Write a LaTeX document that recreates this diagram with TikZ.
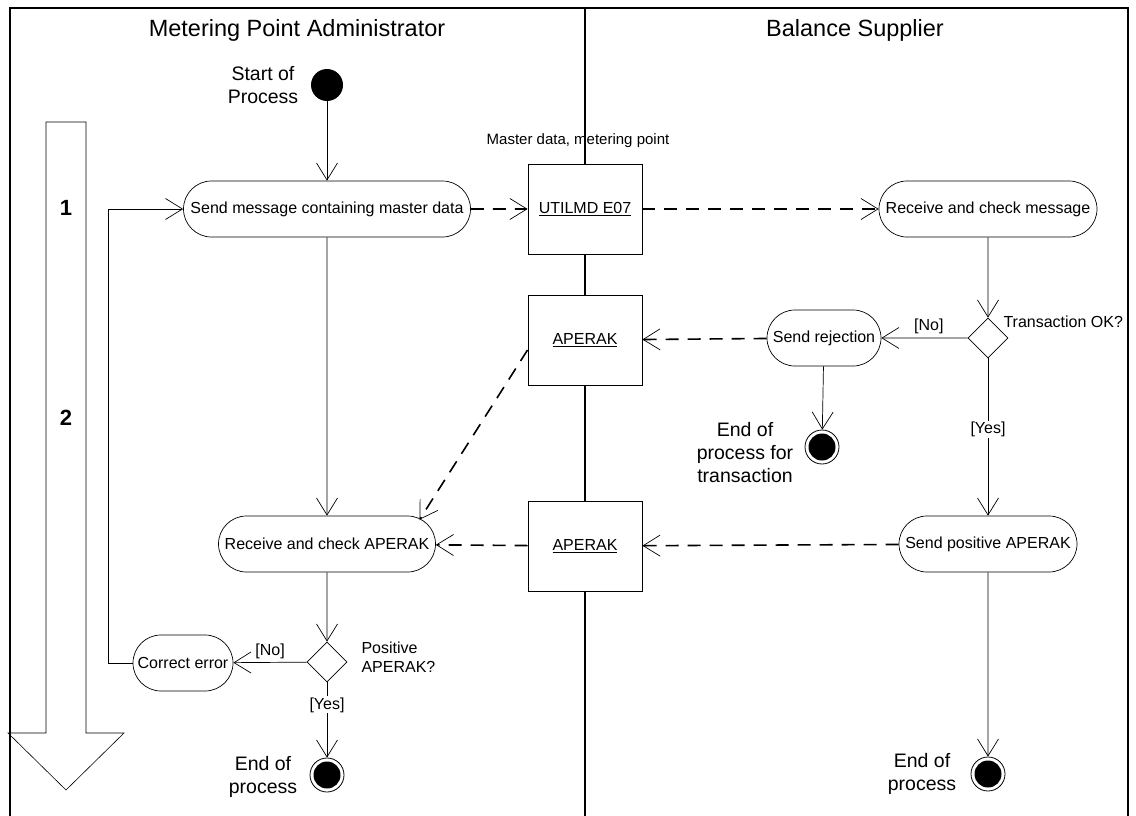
\documentclass[tikz,border=0pt]{standalone}
\usepackage{fontspec}
\setmainfont{Liberation Sans}
\usetikzlibrary{arrows.meta,shapes.misc,shapes.geometric,calc}
\begin{document}
\begin{tikzpicture}[x=1pt,y=-1pt,
  txt/.style={font=\fontsize{16}{19.5}\selectfont},
  act/.style={draw, line width=0.7pt, rounded rectangle, minimum height=56pt, inner xsep=6pt, txt},
  obj/.style={draw, line width=0.9pt, fill=white, minimum width=114pt, minimum height=90pt, txt},
  dec/.style={draw, diamond, line width=0.7pt, minimum width=40pt, minimum height=40pt, inner sep=0pt, fill=white},
  big/.style={font=\fontsize{19.5}{23}\selectfont, align=center},
  title/.style={font=\fontsize{23.5}{27}\selectfont},
  num/.style={font=\fontsize{22}{25}\selectfont\bfseries},
  startnode/.style={circle, fill=black, minimum size=32pt, inner sep=0pt},
  endnode/.style={circle, draw, line width=0.8pt, fill=white, minimum size=34pt, inner sep=0pt,
     path picture={\fill[black] (path picture bounding box.center) circle (13.5pt);}},
  tip/.style={-{Straight Barb[length=17pt,width=21pt,line width=0.7pt]}},
  flow/.style={line width=0.7pt, tip},
  msg/.style={line width=1.6pt, dash pattern=on 13pt off 9pt, tip},
  frame/.style={line width=1.6pt},
]
\useasboundingbox (0,0) rectangle (1136,816);

% frame and swimlanes
\draw[frame] (10,816) -- (10,8) -- (1128,8) -- (1128,816);
\draw[frame] (585,8) -- (585,816);
\node[title] (t1) at (297,30) {Metering Point Administrator};
\node[title] (t2) at (855,30) {Balance Supplier};

% big phase arrow
\draw[line width=0.6pt] (46,122) -- (46,733) -- (8,733) -- (66,790) -- (124,733) -- (86,733) -- (86,122) -- cycle;
\node[num] (n1) at (66,208) {1};
\node[num] (n2) at (66,418) {2};

% nodes
\node[startnode] (start) at (327,85) {};
\node[big] (startlbl) at (263,85) {Start of\\Process};

\node[act, minimum width=299pt] (send) at (327,209) {Send message containing master data};
\node[obj] (utl) at (585,209) {\underline{UTILMD E07}};
\node[font=\fontsize{15}{17}\selectfont] (utllbl) at (578,141) {Master data, metering point};
\node[act, minimum width=230pt] (recm) at (988,209) {Receive and check message};

\node[dec] (d1) at (988,338) {};
\node[txt, anchor=west] (d1lbl) at (1000,322) {Transaction OK?};
\node[act, minimum width=126pt] (rej) at (824,338) {Send rejection};
\node[obj] (ap1) at (585,340) {\underline{APERAK}};
\node[endnode] (end1) at (822,447) {};
\node[big] (end1lbl) at (745,453) {End of\\process for\\transaction};

\node[act, minimum width=190pt] (pos) at (988,544) {Send positive APERAK};
\node[obj] (ap2) at (585,546) {\underline{APERAK}};
\node[act, minimum width=229pt] (reca) at (327,544) {Receive and check APERAK};

\node[dec] (d2) at (327,662) {};
\node[txt, anchor=west, align=left] (d2lbl) at (358,657) {Positive\\APERAK?};
\node[act, minimum width=112pt] (corr) at (183,663) {Correct error};

\node[endnode] (end2) at (327,775) {};
\node[big] (end2lbl) at (263,777) {End of\\process};
\node[endnode] (end3) at (988,774) {};
\node[big] (end3lbl) at (922,774) {End of\\process};

% connectors
\draw[flow] (start) -- (send);
\draw[msg] (send) -- (utl);
\draw[msg] (utl) -- (recm);
\draw[flow] (recm) -- (d1);
\draw[flow] (d1) -- node[txt, above, pos=0.45] {[No]} (rej);
\draw[msg] (rej) -- (ap1);
\draw[flow] (rej) -- (end1);
\draw[flow] (d1) -- node[txt, fill=white, inner sep=1pt, pos=0.45] {[Yes]} (pos);
\draw[msg] (pos) -- (ap2);
\draw[msg] (ap2) -- (reca);
\draw[msg] ([yshift=-10pt]ap1.west) -- ([xshift=12pt,yshift=-4pt]reca.north east);
\draw[flow] (send) -- (reca);
\draw[flow] (reca) -- (d2);
\draw[flow] (d2) -- node[txt, above, pos=0.5] {[No]} (corr);
\draw[flow] (d2) -- node[txt, fill=white, inner sep=1pt, pos=0.3] {[Yes]} (end2);
\draw[flow] (pos) -- (end3);
\draw[flow] (corr.west) -- ++(-24,0) |- (send.west);
\end{tikzpicture}
\end{document}
